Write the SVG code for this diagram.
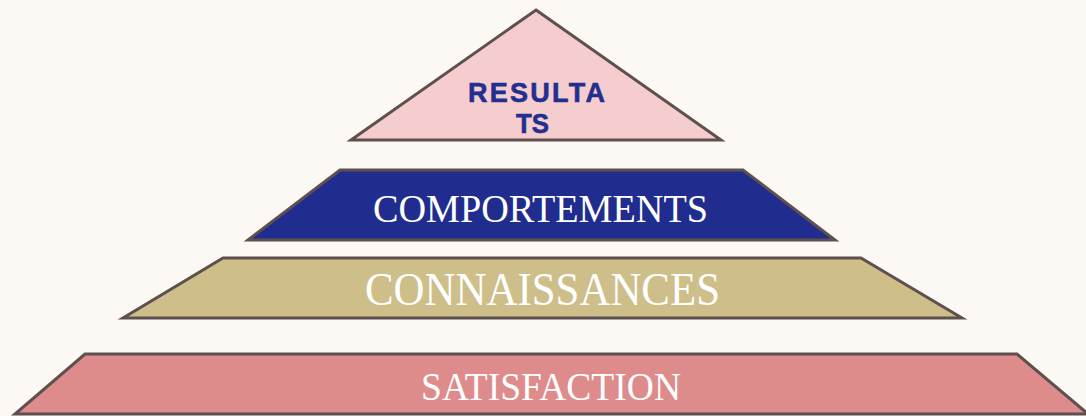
<svg xmlns="http://www.w3.org/2000/svg" width="1086" height="416" viewBox="0 0 1086 416">
<style>
.lvl{stroke:#5F5050;stroke-width:3;stroke-linejoin:miter}
.serif{font-family:"Liberation Serif","Times New Roman",serif;fill:#FFFFFF;text-anchor:middle}
.bold{font-family:"Liberation Sans",Arial,sans-serif;font-weight:bold;fill:#232F8E;font-size:27px;stroke:#232F8E;stroke-width:0.6}
</style>
<rect width="1086" height="416" fill="#FCF9F4"/>
<g id="resultats">
<polygon class="lvl" points="536,10 721,140 351,140" fill="#F5CDCF"/>
<text class="bold" x="468" y="102" textLength="137" lengthAdjust="spacing">RESULTA</text>
<text class="bold" x="516" y="133" textLength="33" lengthAdjust="spacingAndGlyphs">TS</text>
</g>
<g id="comportements">
<polygon class="lvl" points="340,170 743,170 835,240 248,240" fill="#212D8E"/>
<text class="serif" x="540.5" y="222" font-size="41" textLength="335" lengthAdjust="spacingAndGlyphs">COMPORTEMENTS</text>
</g>
<g id="connaissances">
<polygon class="lvl" points="223,258 861,258 962,318 123,318" fill="#CDBE8A"/>
<text class="serif" x="542.5" y="305" font-size="46" textLength="355" lengthAdjust="spacingAndGlyphs">CONNAISSANCES</text>
</g>
<g id="satisfaction">
<polygon class="lvl" points="85,354 1017,354 1088,414 15,414" fill="#DE8B8B"/>
<text class="serif" x="551" y="400" font-size="41" textLength="260" lengthAdjust="spacingAndGlyphs">SATISFACTION</text>
</g>
<g id="connectors"></g>
</svg>
